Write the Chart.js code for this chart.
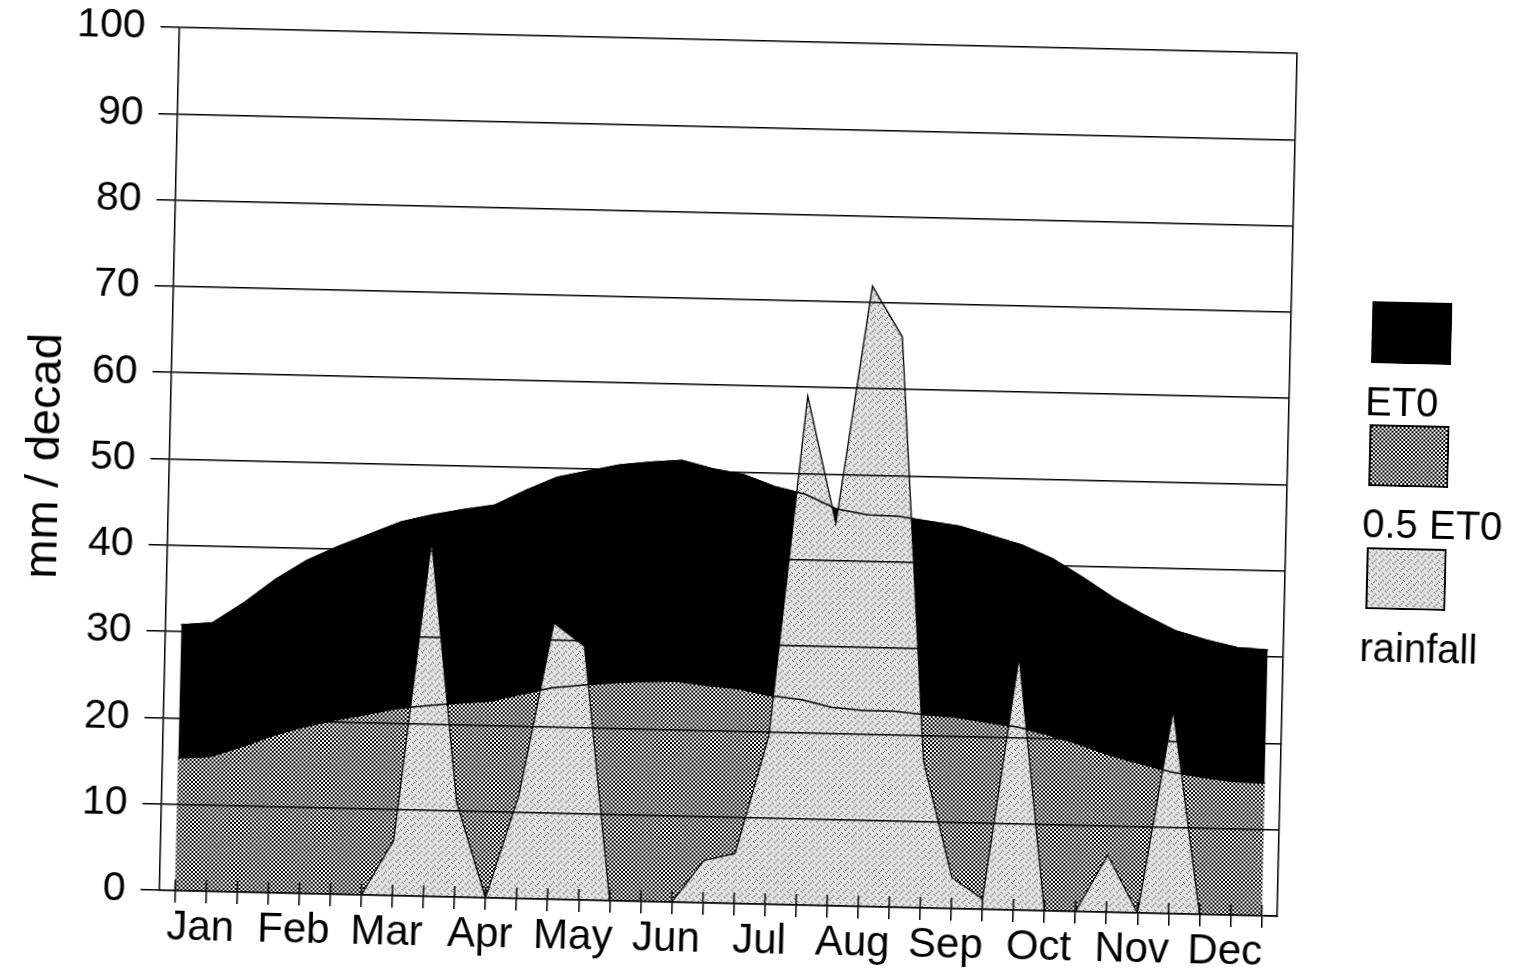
<!DOCTYPE html>
<html>
<head>
<meta charset="utf-8">
<title>ET0 and rainfall per decad</title>
<script src="https://cdn.jsdelivr.net/npm/chart.js@4"></script>
<style>
  body { margin: 0; background: #fff; overflow: hidden; }
  #wrap {
    position: absolute; left: 0; top: 0; width: 1517px; height: 977px;
    transform: rotate(1.33deg); transform-origin: 758px 488px;
    font-family: 'Liberation Sans', Arial, sans-serif;
  }
  #c { position: absolute; left: 0; top: 0; }
  .lg-box { position: absolute; left: 1368px; width: 80px; height: 62px; }
  .lg-txt { position: absolute; left: 1363px; font-size: 40px; line-height: 40px; color: #000; white-space: nowrap; }
</style>
</head>
<body>
<div id="wrap">
  <canvas id="c" width="1517" height="977"></canvas>
  <canvas class="lg-box" id="lg-et0" width="80" height="62" style="top:287px"></canvas>
  <div class="lg-txt" style="top:367px">ET0</div>
  <canvas class="lg-box" id="lg-half" width="80" height="62" style="top:410px"></canvas>
  <div class="lg-txt" style="top:489px">0.5 ET0</div>
  <canvas class="lg-box" id="lg-rain" width="80" height="62" style="top:533px"></canvas>
  <div class="lg-txt" style="top:613px">rainfall</div>
</div>
<script>
// 3 decads per month, 36 points
const months = ['Jan', 'Feb', 'Mar', 'Apr', 'May', 'Jun', 'Jul', 'Aug', 'Sep', 'Oct', 'Nov', 'Dec'];
const yTicks = [0, 10, 20, 30, 40, 50, 60, 70, 80, 90, 100];

const et0 = [30.8, 31.1, 33.5, 36.3, 38.6, 40.3, 41.8, 43.3, 44.2, 44.9, 45.5, 47.3,
             48.9, 49.7, 50.5, 50.9, 51.2, 50.3, 49.7, 48.4, 47.6, 46.0, 45.4, 45.3,
             44.8, 44.3, 43.3, 42.3, 40.8, 38.7, 36.4, 34.5, 32.8, 31.8, 31.0, 30.8];

const halfEt0 = [15.4, 15.6, 16.8, 18.2, 19.3, 20.2, 20.9, 21.7, 22.1, 22.5, 22.8, 23.7,
                 24.5, 24.9, 25.3, 25.5, 25.6, 25.2, 24.9, 24.2, 23.8, 23.0, 22.7, 22.7,
                 22.4, 22.2, 21.7, 21.2, 20.4, 19.4, 18.2, 17.3, 16.4, 15.9, 15.5, 15.4];

const rainfall = [0, 0, 0, 0, 0, 0, 0, 6.4, 41.3, 11, 0, 12,
                  32, 29.4, 0, 0, 0, 4.9, 5.8, 19.5, 59.0, 44.3, 71.9, 66.1,
                  17, 3.6, 1.2, 29.4, 0, 0, 6.6, 0, 23.6, 0, 0, 0];

let decadLabels = [];
months.forEach(m => { decadLabels.push(m + ' 1', m + ' 2', m + ' 3'); });

Chart.defaults.font.family = "'Liberation Sans', Arial, sans-serif";
Chart.defaults.color = '#000';

function checkerTile() {
    let c = document.createElement('canvas');
    c.width = 4; c.height = 4;
    let g = c.getContext('2d');
    g.fillStyle = '#fff'; g.fillRect(0, 0, 4, 4);
    g.fillStyle = '#000'; g.fillRect(0, 0, 2, 2); g.fillRect(2, 2, 2, 2);
    return c;
}
function stippleTile() {
    let c = document.createElement('canvas');
    c.width = 14; c.height = 14;
    let g = c.getContext('2d');
    g.fillStyle = '#e2e2e2'; g.fillRect(0, 0, 14, 14);
    g.fillStyle = '#6a6a6a';
    for (let y = 0; y < 14; y++) {
        for (let x = 0; x < 14; x++) {
            if ((x * 5 + y * 9 + x * y * 3) % 7 === 0) g.fillRect(x, y, 1, 1);
        }
    }
    return c;
}

const ctx = document.getElementById('c').getContext('2d');
const checker = ctx.createPattern(checkerTile(), 'repeat');
const stipple = ctx.createPattern(stippleTile(), 'repeat');

function paintBox(id, fill) {
    let g = document.getElementById(id).getContext('2d');
    g.fillStyle = (fill === 'checker') ? g.createPattern(checkerTile(), 'repeat')
                : (fill === 'stipple') ? g.createPattern(stippleTile(), 'repeat') : fill;
    g.fillRect(0, 0, 80, 62);
    g.strokeStyle = '#000'; g.lineWidth = 2;
    g.strokeRect(1, 1, 78, 60);
}
paintBox('lg-et0', '#000');
paintBox('lg-half', 'checker');
paintBox('lg-rain', 'stipple');

// short tick marks pointing into the plot, like the original crossing ticks
const innerTicks = {
    id: 'innerTicks',
    afterDraw(chart) {
        let xs = chart.scales.x, c = chart.ctx, b = chart.chartArea.bottom;
        c.save();
        c.strokeStyle = '#000'; c.lineWidth = 1.5;
        xs.ticks.forEach((t, i) => {
            let x = xs.getPixelForTick(i);
            c.beginPath(); c.moveTo(x, b); c.lineTo(x, b - 11); c.stroke();
        });
        c.restore();
    }
};

new Chart(ctx, {
    type: 'line',
    data: {
        labels: decadLabels,
        datasets: [
            { label: 'rainfall', data: rainfall, order: 1, fill: 'origin',
              backgroundColor: stipple, borderColor: '#000', borderWidth: 1.3 },
            { label: '0.5 ET0', data: halfEt0, order: 2, fill: 'origin',
              backgroundColor: checker, borderColor: '#000', borderWidth: 1.3 },
            { label: 'ET0', data: et0, order: 3, fill: 'origin',
              backgroundColor: '#000', borderColor: '#000', borderWidth: 1.3 },
            // outlines of ET0 and 0.5 ET0 stay visible over the rainfall
            { label: 'ET0 line', data: et0, order: 0, fill: false, borderColor: '#000', borderWidth: 1.5 },
            { label: '0.5 ET0 line', data: halfEt0, order: 0, fill: false, borderColor: '#000', borderWidth: 1.5 }
        ]
    },
    options: {
        responsive: false,
        animation: false,
        elements: { point: { radius: 0 }, line: { tension: 0 } },
        layout: { padding: { left: 0, top: 41, right: 230, bottom: 0 } },
        plugins: { legend: { display: false }, tooltip: { enabled: false } },
        scales: {
            x: {
                offset: true,
                grid: { z: 1, offset: false, drawOnChartArea: false, drawTicks: true, tickLength: 12, color: '#000', lineWidth: 1.5 },
                border: { z: 1, color: '#000', width: 1.5 },
                ticks: {
                    autoSkip: false, maxRotation: 0, minRotation: 0, padding: 0, labelOffset: -5,
                    font: { size: 42 },
                    callback: (v, i) => (i % 3 === 1 ? months[(i - 1) / 3] : '')
                },
                afterFit: s => { s.height = 73; s.paddingLeft = 0; s.paddingRight = 0; }
            },
            y: {
                min: yTicks[0],
                max: yTicks[yTicks.length - 1],
                afterBuildTicks: s => { s.ticks = yTicks.map(v => ({ value: v })); },
                ticks: { padding: 15, font: { size: 41 } },
                grid: { z: 1, color: '#000', lineWidth: 1.5, tickLength: 19 },
                border: { z: 1, color: '#000', width: 1.5 },
                title: { display: true, text: 'mm / decad', font: { size: 47 }, padding: { top: 17, bottom: 0 } },
                afterFit: s => { s.width = 169; s.paddingTop = 0; s.paddingBottom = 0; }
            },
            yR: {
                position: 'right',
                min: 0, max: 100,
                ticks: { display: false },
                grid: { display: false, drawOnChartArea: false, drawTicks: false },
                border: { z: 1, display: true, color: '#000', width: 1.5 },
                afterFit: s => { s.width = 0; }
            }
        }
    },
    plugins: [innerTicks]
});
</script>
</body>
</html>
